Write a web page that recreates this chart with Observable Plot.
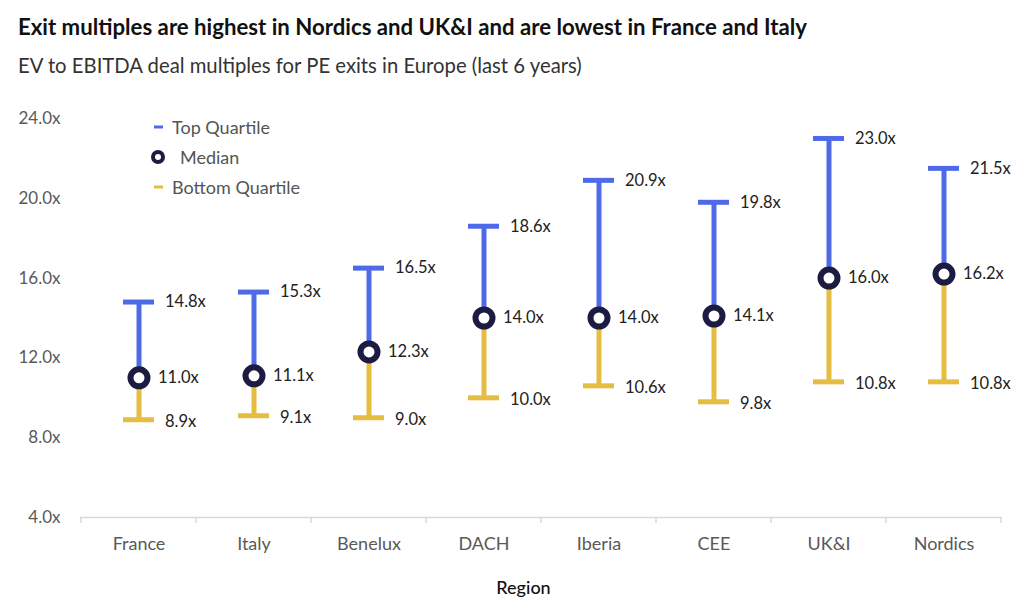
<!DOCTYPE html>
<html><head><meta charset="utf-8">
<script src="https://cdn.jsdelivr.net/npm/d3@7"></script>
<script src="https://cdn.jsdelivr.net/npm/@observablehq/plot@0.6"></script>
<style>
body{margin:0;background:#fff;font-family:Lato,"Noto Sans",sans-serif;}
#wrap{position:relative;width:1024px;height:615px;overflow:hidden;}
#header{position:relative;height:90px;}
#title{position:absolute;left:18px;top:13px;font-size:22.2px;font-weight:700;color:#111;white-space:nowrap;}
#subtitle{position:absolute;left:18px;top:53px;font-size:20.3px;color:#333;white-space:nowrap;}
#legend{position:absolute;left:150px;top:115px;font-size:18px;color:#555;}
.item{position:relative;height:30px;line-height:24px;padding-left:22px;}
.item svg{position:absolute;left:0;top:0;}
</style></head>
<body>
<div id="wrap">
  <div id="header">
    <div id="title">Exit multiples are highest in Nordics and UK&amp;I and are lowest in France and Italy</div>
    <div id="subtitle">EV to EBITDA deal multiples for PE exits in Europe (last 6 years)</div>
  </div>
  <div id="chart"></div>
  <div id="legend"></div>
</div>
<script>
const regions = ["France","Italy","Benelux","DACH","Iberia","CEE","UK&I","Nordics"];
const topQuartile = [14.8,15.3,16.5,18.6,20.9,19.8,23.0,21.5];
const median = [11.0,11.1,12.3,14.0,14.0,14.1,16.0,16.2];
const bottomQuartile = [8.9,9.1,9.0,10.0,10.6,9.8,10.8,10.8];
const yTicks = [4,8,12,16,20,24];
const legendItems = ["Top Quartile","Median","Bottom Quartile"];

const BLUE = "#4f6ae8", GOLD = "#e5bd41", NAVY = "#1c1b42";
const data = regions.map((r,i)=>({region:r, top:topQuartile[i], med:median[i], bot:bottomQuartile[i]}));
const fmt = v => v.toFixed(1) + "x";

const plot = Plot.plot({
  width: 1024, height: 525,
  marginTop: 28, marginBottom: 98, marginLeft: 80, marginRight: 22,
  style: {fontFamily: "Lato, 'Noto Sans', sans-serif", fontSize: "17px", color: "#595959", background: "#fff"},
  x: {type: "band", domain: regions, padding: 0, label: "Region", tickSize: 0, tickPadding: 20, labelAnchor: "center", labelOffset: 76},
  y: {domain: [4,24], ticks: yTicks, tickFormat: fmt, tickSize: 0, tickPadding: 20, label: null},
  marks: [
    Plot.ruleY([4], {stroke: "#d9d9d9", strokeWidth: 1.5}),
    Plot.ruleX(data, {x: "region", y1: "med", y2: "top", stroke: BLUE, strokeWidth: 5}),
    Plot.ruleX(data, {x: "region", y1: "bot", y2: "med", stroke: GOLD, strokeWidth: 5}),
    Plot.tickY(data, {x: "region", y: "top", stroke: BLUE, strokeWidth: 5, insetLeft: 42, insetRight: 42}),
    Plot.tickY(data, {x: "region", y: "bot", stroke: GOLD, strokeWidth: 5, insetLeft: 42, insetRight: 42}),
    Plot.dot(data, {x: "region", y: "med", r: 8.5, fill: "#fff", stroke: NAVY, strokeWidth: 6}),
    Plot.text(data, {x: "region", y: "top", text: d => fmt(d.top), dx: 26, textAnchor: "start", fill: "#222", fontSize: 16.5}),
    Plot.text(data, {x: "region", y: "med", text: d => fmt(d.med), dx: 19, textAnchor: "start", fill: "#222", fontSize: 16.5}),
    Plot.text(data, {x: "region", y: "bot", text: d => fmt(d.bot), dx: 26, dy: 2, textAnchor: "start", fill: "#222", fontSize: 16.5})
  ]
});
document.getElementById("chart").appendChild(plot);

// band boundary ticks on the x axis, from the plot's own scales
const sx = plot.scale("x"), sy = plot.scale("y");
const y0 = sy.apply(4);
const bounds = regions.map(r => sx.apply(r)).concat([sx.apply(regions[regions.length-1]) + sx.bandwidth]);
const svg = d3.select(plot);
svg.append("g").selectAll("line").data(bounds).join("line")
  .attr("x1", d => d).attr("x2", d => d).attr("y1", y0).attr("y2", y0 + 6)
  .attr("stroke", "#d9d9d9").attr("stroke-width", 1.5);
svg.selectAll('g[aria-label="x-axis tick label"]').attr("font-size", 18);
const lab = svg.selectAll('g[aria-label="x-axis label"]');
lab.attr("fill", "#111").attr("font-size", 18).attr("font-weight", 500);
lab.attr("transform", function() { return "translate(-18,0) " + (this.getAttribute("transform") || ""); });

// legend
const lg = d3.select("#legend");
legendItems.forEach((t, i) => {
  const it = lg.append("div").attr("class", "item");
  const s = it.append("svg").attr("width", 20).attr("height", 24);
  if (i === 1) {
    s.append("circle").attr("cx", 8).attr("cy", 12).attr("r", 5).attr("fill", "#fff").attr("stroke", NAVY).attr("stroke-width", 4);
    it.style("padding-left", "30px");
  } else {
    s.append("line").attr("x1", 4).attr("x2", 13).attr("y1", 12).attr("y2", 12).attr("stroke", i === 0 ? BLUE : GOLD).attr("stroke-width", 3);
  }
  it.append("span").text(t);
});
</script>
</body></html>
